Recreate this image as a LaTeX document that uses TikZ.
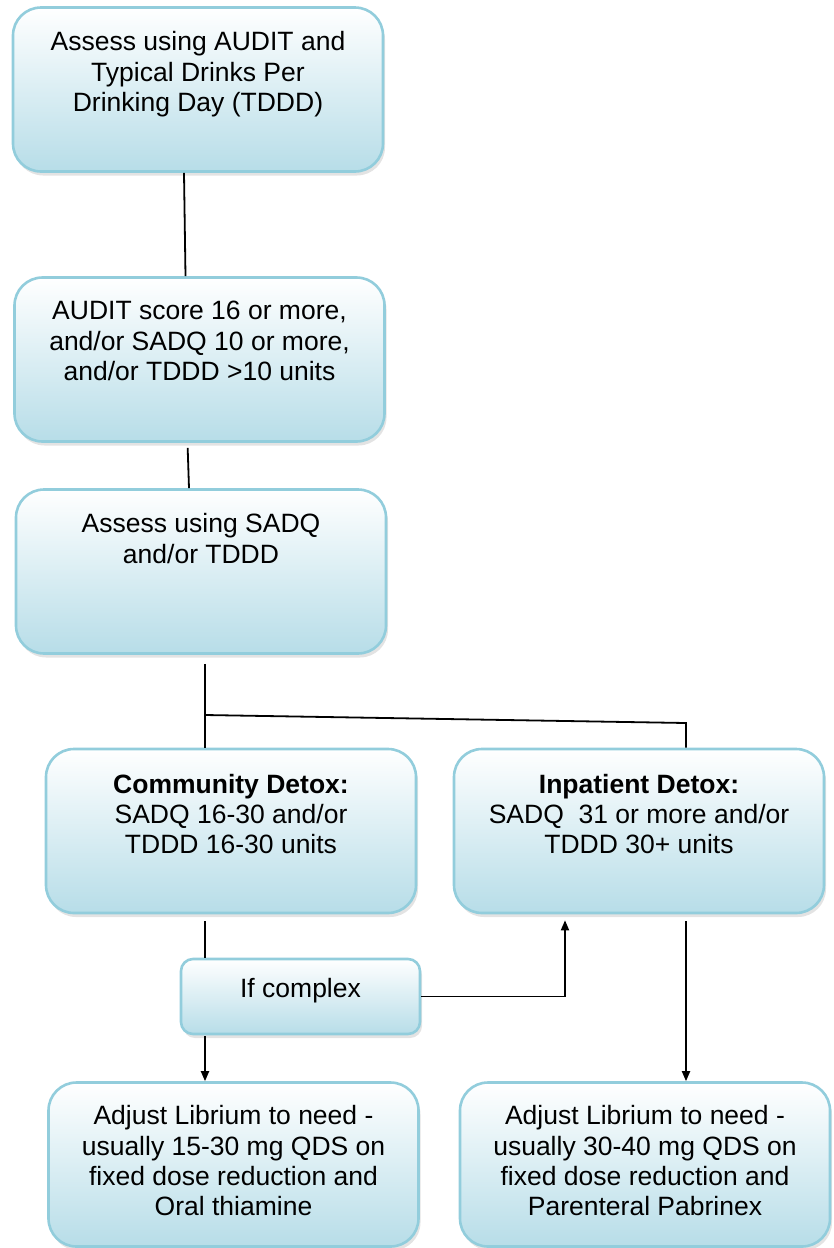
\documentclass[tikz,border=0pt]{standalone}
\usepackage{fontspec}
\setmainfont{Liberation Sans}
\usetikzlibrary{positioning,shadows,arrows.meta}
\definecolor{boxline}{RGB}{146,205,220}
\definecolor{boxfill}{RGB}{183,221,232}

\begin{document}
\begin{tikzpicture}[x=1pt,y=-1pt,
  box/.style={draw=boxline,line width=2.6pt,rounded corners=28pt,top color=white,bottom color=boxfill,
    minimum width=370pt,minimum height=164pt,inner sep=0pt,
    drop shadow={shadow xshift=2pt,shadow yshift=-4pt,opacity=.22}},
  smallbox/.style={box,rounded corners=12pt,minimum width=239pt,minimum height=75pt},
  txt/.style={anchor=north,align=center,inner sep=0pt,font=\fontsize{26.5}{30.4}\selectfont},
  link/.style={line width=1.8pt},
  arrow/.style={link,-{Triangle[length=10pt,width=8pt]}}]
  \useasboundingbox (0,0) rectangle (834,1248);

  \node[box] (assess) at (198,89.5) {};
  \node[txt,below=25pt of assess.north] (assessText) {Assess using AUDIT and\\Typical Drinks Per\\Drinking Day (TDDD)};

  \node[box] (audit) at (199.5,359.5) {};
  \node[txt,below=25pt of audit.north] (auditText) {AUDIT score 16 or more,\\and/or SADQ 10 or more,\\and/or TDDD >10 units};

  \node[box] (sadq) at (201,571.5) {};
  \node[txt,below=25pt of sadq.north] (sadqText) {Assess using SADQ\\and/or TDDD};

  \node[box] (community) at (231,831) {};
  \node[txt,below=26pt of community.north] (communityText) {\textbf{Community Detox:}\\SADQ 16-30 and/or\\TDDD 16-30 units};

  \node[box] (inpatient) at (639,831) {};
  \node[txt,below=26pt of inpatient.north] (inpatientText) {\textbf{Inpatient Detox:}\\SADQ\ \ 31 or more and/or\\TDDD 30+ units};

  \node[smallbox] (complex) at (300.5,996.5) {};
  \node[txt,below=20pt of complex.north] (complexText) {If complex};

  \node[box] (lowdose) at (233.5,1164.5) {};
  \node[txt,below=24pt of lowdose.north] (lowdoseText) {Adjust Librium to need -\\usually 15-30 mg QDS on\\fixed dose reduction and\\Oral thiamine};

  \node[box] (highdose) at (645,1164.5) {};
  \node[txt,below=24pt of highdose.north] (highdoseText) {Adjust Librium to need -\\usually 30-40 mg QDS on\\fixed dose reduction and\\Parenteral Pabrinex};

  % split after the SADQ assessment
  \coordinate (split) at (205,715);
  \coordinate (splitEnd) at (686,723);

  \draw[link] ([xshift=-14pt]assess.south) -- ([xshift=-14pt]audit.north);
  \draw[link,shorten <=5pt] ([xshift=-12pt]audit.south) -- ([xshift=-12pt]sadq.north);
  \draw[link,shorten <=9pt] (sadq.south -| split) -- (split);
  \draw[link] (split) -- (splitEnd) -- (inpatient.north -| splitEnd);
  \draw[link] (split) -- (community.north -| split);
  \draw[link,shorten <=7pt] (community.south -| split) -- (complex.north -| split);
  \draw[arrow,shorten <=1pt] (complex.south -| split) -- (lowdose.north -| split);
  \draw[arrow] (complex.east) -| ([xshift=-74pt,yshift=-6pt]inpatient.south);
  \draw[arrow,shorten <=7pt] (inpatient.south -| splitEnd) -- (highdose.north -| splitEnd);
\end{tikzpicture}
\end{document}
